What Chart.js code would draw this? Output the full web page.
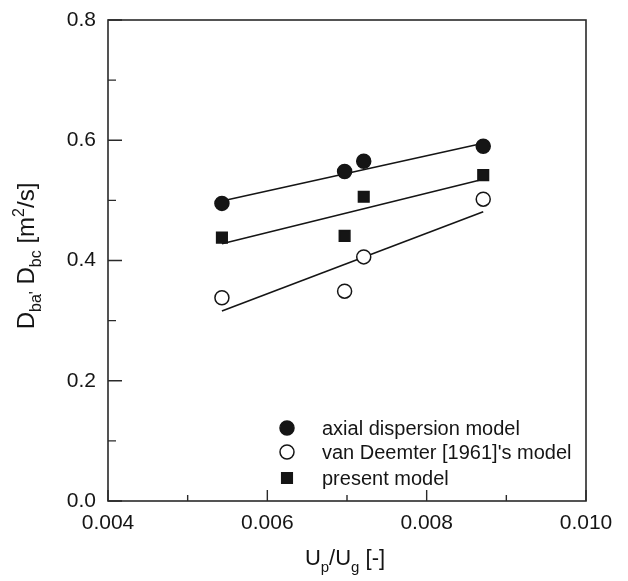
<!DOCTYPE html>
<html>
<head>
<meta charset="utf-8">
<script src="https://cdn.jsdelivr.net/npm/chart.js@4.4.0/dist/chart.umd.min.js"></script>
<style>
  html, body { margin: 0; padding: 0; background: #fff; }
</style>
</head>
<body>
<canvas id="chart" width="628" height="581"></canvas>
<script>
// measured points (x = Up/Ug, y = D [m2/s])
const xValues = [0.00543, 0.00697, 0.00721, 0.00871];
const axialValues = [0.495, 0.548, 0.565, 0.590];
const vanDeemterValues = [0.338, 0.349, 0.406, 0.502];
const presentValues = [0.438, 0.441, 0.506, 0.542];

// fitted lines, end points
const fitX = [0.00543, 0.00871];
const axialFit = [0.499, 0.595];
const presentFit = [0.428, 0.535];
const vanDeemterFit = [0.316, 0.481];

const xMajorTicks = [0.004, 0.006, 0.008, 0.010];
const xMinorTicks = [0.005, 0.007, 0.009];
const yMajorTicks = [0.0, 0.2, 0.4, 0.6, 0.8];
const yMinorTicks = [0.1, 0.3, 0.5, 0.7];

const legendLabels = ['axial dispersion model', "van Deemter [1961]'s model", 'present model'];

const FONT = '"Liberation Sans", Arial, Helvetica, sans-serif';
const INK = '#151515';

const toPoints = (xs, ys) => xs.map((x, i) => ({ x, y: ys[i] }));

const markerStyles = [
  { pointStyle: 'circle', radius: 7, fill: INK, stroke: INK },
  { pointStyle: 'circle', radius: 7, fill: '#ffffff', stroke: INK },
  { pointStyle: 'rect', radius: 7.5, fill: INK, stroke: INK },
];

const markerDataset = (label, ys, style) => ({
  label,
  data: toPoints(xValues, ys),
  showLine: false,
  pointStyle: style.pointStyle,
  pointRadius: style.radius,
  pointHoverRadius: style.radius,
  pointBackgroundColor: style.fill,
  pointBorderColor: style.stroke,
  pointBorderWidth: 1.5,
  order: 1,
});

const fitDataset = (ys) => ({
  data: toPoints(fitX, ys),
  showLine: true,
  borderColor: INK,
  borderWidth: 1.6,
  pointRadius: 0,
  fill: false,
  order: 2,
});

// draws text with sub/superscript pieces, centered on x, baseline y
const drawRich = (ctx, parts, x, y, big, small) => {
  const size = (p) => (p.mode ? small : big);
  const shift = (p) => (p.mode === 'sub' ? big * 0.3 : p.mode === 'sup' ? -big * 0.42 : 0);
  let total = 0;
  parts.forEach((p) => {
    ctx.font = `${size(p)}px ${FONT}`;
    total += ctx.measureText(p.text).width;
  });
  let cx = x - total / 2;
  parts.forEach((p) => {
    ctx.font = `${size(p)}px ${FONT}`;
    ctx.fillText(p.text, cx, y + shift(p));
    cx += ctx.measureText(p.text).width;
  });
};

const decorations = {
  id: 'decorations',
  afterDraw(chart) {
    const { ctx, chartArea: area, scales } = chart;
    const xs = scales.x;
    const ys = scales.y;
    ctx.save();

    // frame
    ctx.strokeStyle = '#2a2a2a';
    ctx.lineWidth = 1.6;
    ctx.strokeRect(area.left, area.top, area.right - area.left, area.bottom - area.top);

    // inward ticks
    ctx.lineWidth = 1.4;
    ctx.beginPath();
    yMajorTicks.forEach((v) => {
      const py = ys.getPixelForValue(v);
      ctx.moveTo(area.left, py);
      ctx.lineTo(area.left + 14, py);
    });
    yMinorTicks.forEach((v) => {
      const py = ys.getPixelForValue(v);
      ctx.moveTo(area.left, py);
      ctx.lineTo(area.left + 8, py);
    });
    xMajorTicks.forEach((v) => {
      const px = xs.getPixelForValue(v);
      ctx.moveTo(px, area.bottom);
      ctx.lineTo(px, area.bottom - 11);
    });
    xMinorTicks.forEach((v) => {
      const px = xs.getPixelForValue(v);
      ctx.moveTo(px, area.bottom);
      ctx.lineTo(px, area.bottom - 6);
    });
    ctx.stroke();

    // axis titles
    ctx.fillStyle = INK;
    ctx.textAlign = 'left';
    ctx.textBaseline = 'alphabetic';
    drawRich(ctx, [
      { text: 'U' }, { text: 'p', mode: 'sub' },
      { text: '/U' }, { text: 'g', mode: 'sub' },
      { text: ' [-]' },
    ], 345, 565, 22, 15);

    ctx.save();
    ctx.translate(34, 256);
    ctx.rotate(-Math.PI / 2);
    drawRich(ctx, [
      { text: 'D' }, { text: "ba'", mode: 'sub' },
      { text: ' D' }, { text: 'bc', mode: 'sub' },
      { text: ' [m' }, { text: '2', mode: 'sup' },
      { text: '/s]' },
    ], 0, 0, 24, 16);
    ctx.restore();

    // legend
    const legendX = 287;
    const legendY = [428, 452, 478];
    ctx.font = `20px ${FONT}`;
    ctx.textBaseline = 'middle';
    legendLabels.forEach((label, i) => {
      const s = markerStyles[i];
      ctx.fillStyle = s.fill;
      ctx.strokeStyle = s.stroke;
      ctx.lineWidth = 1.5;
      Chart.helpers.drawPoint(ctx, { pointStyle: s.pointStyle, radius: s.radius, borderWidth: 1.5 }, legendX, legendY[i]);
      ctx.fillStyle = INK;
      ctx.fillText(label, 322, legendY[i] + 1);
    });

    ctx.restore();
  },
};

new Chart(document.getElementById('chart').getContext('2d'), {
  type: 'scatter',
  data: {
    datasets: [
      markerDataset(legendLabels[0], axialValues, markerStyles[0]),
      markerDataset(legendLabels[1], vanDeemterValues, markerStyles[1]),
      markerDataset(legendLabels[2], presentValues, markerStyles[2]),
      fitDataset(axialFit),
      fitDataset(presentFit),
      fitDataset(vanDeemterFit),
    ],
  },
  options: {
    responsive: false,
    animation: false,
    layout: { padding: { top: 20, right: 42, left: 0, bottom: 0 } },
    plugins: {
      legend: { display: false },
      tooltip: { enabled: false },
    },
    scales: {
      x: {
        type: 'linear',
        min: 0.004,
        max: 0.010,
        grid: { display: false, drawTicks: false },
        border: { display: false },
        ticks: {
          stepSize: 0.002,
          padding: 10,
          color: INK,
          font: { family: FONT, size: 21 },
          maxRotation: 0,
          callback: (value) => value.toFixed(3),
        },
        afterFit: (scale) => {
          scale.height = 80;
          scale.paddingLeft = 0;
          scale.paddingRight = 0;
        },
      },
      y: {
        type: 'linear',
        min: 0,
        max: 0.8,
        grid: { display: false, drawTicks: false },
        border: { display: false },
        ticks: {
          stepSize: 0.2,
          padding: 12,
          color: INK,
          font: { family: FONT, size: 21 },
          callback: (value) => value.toFixed(1),
        },
        afterFit: (scale) => {
          scale.width = 108;
          scale.paddingTop = 0;
          scale.paddingBottom = 0;
        },
      },
    },
  },
  plugins: [decorations],
});
</script>
</body>
</html>
